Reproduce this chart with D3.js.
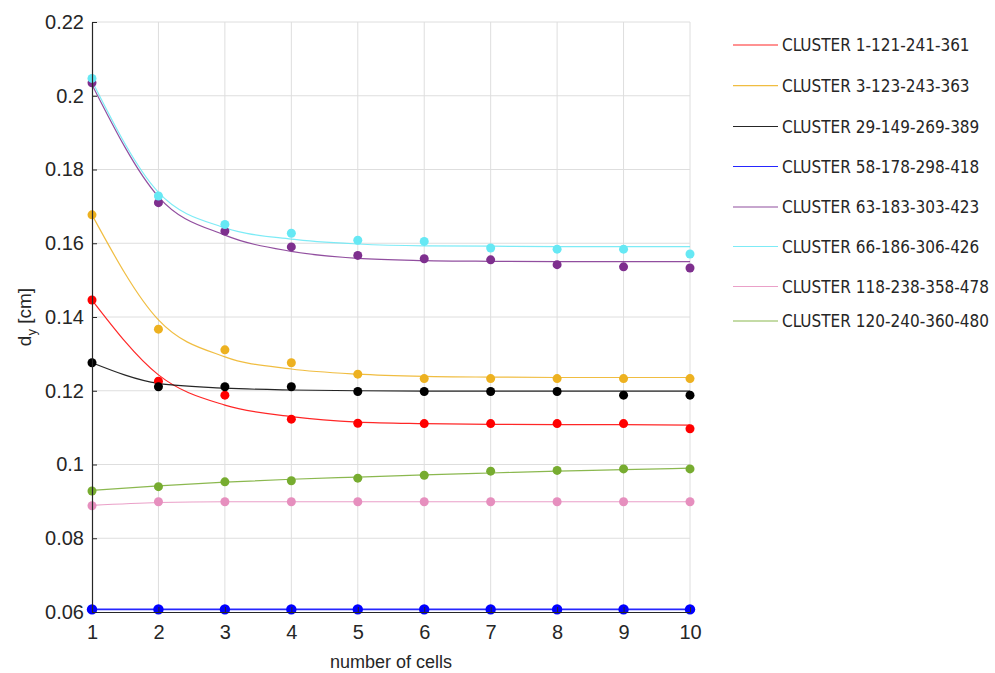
<!DOCTYPE html>
<html>
<head>
<meta charset="utf-8">
<script src="https://cdn.jsdelivr.net/npm/d3@7"></script>
<style>
  html, body { margin: 0; padding: 0; background: #ffffff; }
  svg { display: block; }
</style>
</head>
<body>
<div id="chart"></div>
<script>
// number of cells on the x axis
const cells = [1, 2, 3, 4, 5, 6, 7, 8, 9, 10];

const clusterNames = [
  "CLUSTER 1-121-241-361",
  "CLUSTER 3-123-243-363",
  "CLUSTER 29-149-269-389",
  "CLUSTER 58-178-298-418",
  "CLUSTER 63-183-303-423",
  "CLUSTER 66-186-306-426",
  "CLUSTER 118-238-358-478",
  "CLUSTER 120-240-360-480"
];

const clusterColors = ["#ff0000", "#edb120", "#000000", "#0000ff", "#7e2f8e", "#66e8f4", "#e68fbe", "#77ac30"];

// measured d_y [cm] for each cluster, one value per number of cells
const dyCluster1   = [0.1446, 0.1226, 0.1188, 0.1123, 0.1112, 0.1111, 0.1111, 0.1111, 0.1111, 0.1097];
const dyCluster3   = [0.1677, 0.1367, 0.1311, 0.1276, 0.1245, 0.1233, 0.1233, 0.1233, 0.1233, 0.1233];
const dyCluster29  = [0.1276, 0.1211, 0.1211, 0.1211, 0.1198, 0.1198, 0.1198, 0.1198, 0.1188, 0.1188];
const dyCluster58  = [0.0607, 0.0607, 0.0607, 0.0607, 0.0607, 0.0607, 0.0607, 0.0607, 0.0607, 0.0607];
const dyCluster63  = [0.2035, 0.1710, 0.1633, 0.1590, 0.1567, 0.1558, 0.1555, 0.1542, 0.1536, 0.1533];
const dyCluster66  = [0.2047, 0.1728, 0.1651, 0.1627, 0.1608, 0.1605, 0.1587, 0.1584, 0.1584, 0.1571];
const dyCluster118 = [0.0888, 0.0899, 0.0899, 0.0899, 0.0899, 0.0899, 0.0899, 0.0899, 0.0899, 0.0899];
const dyCluster120 = [0.0928, 0.0940, 0.0953, 0.0956, 0.0963, 0.0971, 0.0982, 0.0984, 0.0988, 0.0988];

// fitted trend curves, sampled at each number of cells
const fitCluster1   = [0.1446, 0.1243, 0.1161, 0.1130, 0.1115, 0.1111, 0.1109, 0.1108, 0.1108, 0.1107];
const fitCluster3   = [0.1677, 0.1392, 0.1292, 0.1259, 0.1245, 0.1239, 0.1237, 0.1236, 0.1236, 0.1236];
const fitCluster29  = [0.1276, 0.1220, 0.1207, 0.1202, 0.1200, 0.1199, 0.1199, 0.1199, 0.1199, 0.1199];
const fitCluster58  = [0.0607, 0.0607, 0.0607, 0.0607, 0.0607, 0.0607, 0.0607, 0.0607, 0.0607, 0.0607];
const fitCluster63  = [0.2030, 0.1726, 0.1622, 0.1578, 0.1559, 0.1553, 0.1551, 0.1550, 0.1550, 0.1550];
const fitCluster66  = [0.2040, 0.1738, 0.1642, 0.1611, 0.1598, 0.1593, 0.1592, 0.1591, 0.1591, 0.1591];
const fitCluster118 = [0.0889, 0.0897, 0.0899, 0.0899, 0.0899, 0.0899, 0.0899, 0.0899, 0.0899, 0.0899];
const fitCluster120 = [0.0930, 0.0942, 0.0952, 0.0960, 0.0966, 0.0972, 0.0977, 0.0982, 0.0986, 0.0990];

const yTickValues = [0.06, 0.08, 0.10, 0.12, 0.14, 0.16, 0.18, 0.20, 0.22];
const yTickLabels = ["0.06", "0.08", "0.1", "0.12", "0.14", "0.16", "0.18", "0.2", "0.22"];
const xTickLabels = ["1", "2", "3", "4", "5", "6", "7", "8", "9", "10"];

const measured = [dyCluster1, dyCluster3, dyCluster29, dyCluster58, dyCluster63, dyCluster66, dyCluster118, dyCluster120];
const fitted = [fitCluster1, fitCluster3, fitCluster29, fitCluster58, fitCluster63, fitCluster66, fitCluster118, fitCluster120];

const series = clusterNames.map((name, i) => ({
  name,
  color: clusterColors[i],
  points: cells.map((c, j) => ({ x: c, y: measured[i][j] })),
  fit: cells.map((c, j) => ({ x: c, y: fitted[i][j] }))
}));

const W = 995, H = 673;
const plot = { left: 92, right: 690, top: 22, bottom: 612 };
const axisColor = "#262626";
const gridColor = "#dedede";
const tickFont = "'Liberation Sans', Arial, sans-serif";
const legendFont = "'Liberation Sans Narrow', 'DejaVu Sans Condensed', sans-serif";
// vertical placement of the legend entries
const legendRowY = [45, 85.7, 126.5, 166.5, 207, 246.5, 286.5, 321];

const svg = d3.select("#chart").append("svg")
  .attr("width", W).attr("height", H);

const x = d3.scaleLinear().domain([1, 10]).range([plot.left, plot.right]);
const y = d3.scaleLinear().domain([0.06, 0.22]).range([plot.bottom, plot.top]);

// grid
const grid = svg.append("g").attr("class", "grid");
grid.selectAll("line.v").data(cells.slice(1)).join("line")
  .attr("class", "v")
  .attr("x1", d => x(d)).attr("x2", d => x(d))
  .attr("y1", plot.top).attr("y2", plot.bottom)
  .attr("stroke", gridColor).attr("stroke-width", 1);
grid.selectAll("line.h").data(yTickValues.slice(1)).join("line")
  .attr("class", "h")
  .attr("x1", plot.left).attr("x2", plot.right)
  .attr("y1", d => y(d)).attr("y2", d => y(d))
  .attr("stroke", gridColor).attr("stroke-width", 1);

// fitted curves
const line = d3.line()
  .x(d => x(d.x)).y(d => y(d.y))
  .curve(d3.curveMonotoneX);

svg.append("g").selectAll("path").data(series).join("path")
  .attr("d", d => line(d.fit))
  .attr("fill", "none")
  .attr("stroke", d => d.color)
  .attr("stroke-width", (d, i) => i === 3 ? 1.6 : 1.2)
  .attr("stroke-opacity", 0.85);

// measured points
const markers = svg.append("g");
series.forEach((s, i) => {
  markers.append("g").selectAll("circle").data(s.points).join("circle")
    .attr("cx", d => x(d.x)).attr("cy", d => y(d.y))
    .attr("r", i === 3 ? 5.2 : 4.5)
    .attr("fill", s.color);
});

// axes
const yAxis = d3.axisLeft(y)
  .tickValues(yTickValues)
  .tickFormat((d, i) => yTickLabels[i])
  .tickSizeInner(-5).tickSizeOuter(0).tickPadding(8);
const xAxis = d3.axisBottom(x)
  .tickValues(cells)
  .tickFormat((d, i) => xTickLabels[i])
  .tickSizeInner(-5).tickSizeOuter(0).tickPadding(13);

const gy = svg.append("g").attr("transform", `translate(${plot.left},0)`).call(yAxis);
const gx = svg.append("g").attr("transform", `translate(0,${plot.bottom})`).call(xAxis);
[gx, gy].forEach(g => {
  g.select(".domain").attr("stroke", axisColor).attr("stroke-width", 1.2);
  g.selectAll(".tick line").attr("stroke", axisColor);
  g.selectAll(".tick text")
    .attr("fill", axisColor)
    .style("font-family", tickFont)
    .style("font-size", "20px");
});

// axis titles
svg.append("text")
  .attr("x", (plot.left + plot.right) / 2)
  .attr("y", 668)
  .attr("text-anchor", "middle")
  .attr("fill", axisColor)
  .style("font-family", tickFont)
  .style("font-size", "18px")
  .text("number of cells");

const yTitle = svg.append("text")
  .attr("transform", `translate(31,${(plot.top + plot.bottom) / 2}) rotate(-90)`)
  .attr("text-anchor", "middle")
  .attr("fill", axisColor)
  .style("font-family", tickFont)
  .style("font-size", "19px");
yTitle.append("tspan").text("d");
yTitle.append("tspan").attr("dy", 5).style("font-size", "13px").text("y");
yTitle.append("tspan").attr("dy", -5).text(" [cm]");

// legend
const legend = svg.append("g");
const rows = legend.selectAll("g").data(series).join("g")
  .attr("transform", (d, i) => `translate(733,${legendRowY[i]})`);
rows.append("line")
  .attr("x1", 0).attr("x2", 45)
  .attr("stroke", d => d.color).attr("stroke-width", 1.2).attr("stroke-opacity", 0.85);
rows.append("text")
  .attr("x", 49).attr("dy", "0.36em")
  .attr("fill", axisColor)
  .style("font-family", legendFont)
  .style("font-size", "17px")
  .text(d => d.name);
</script>
</body>
</html>
